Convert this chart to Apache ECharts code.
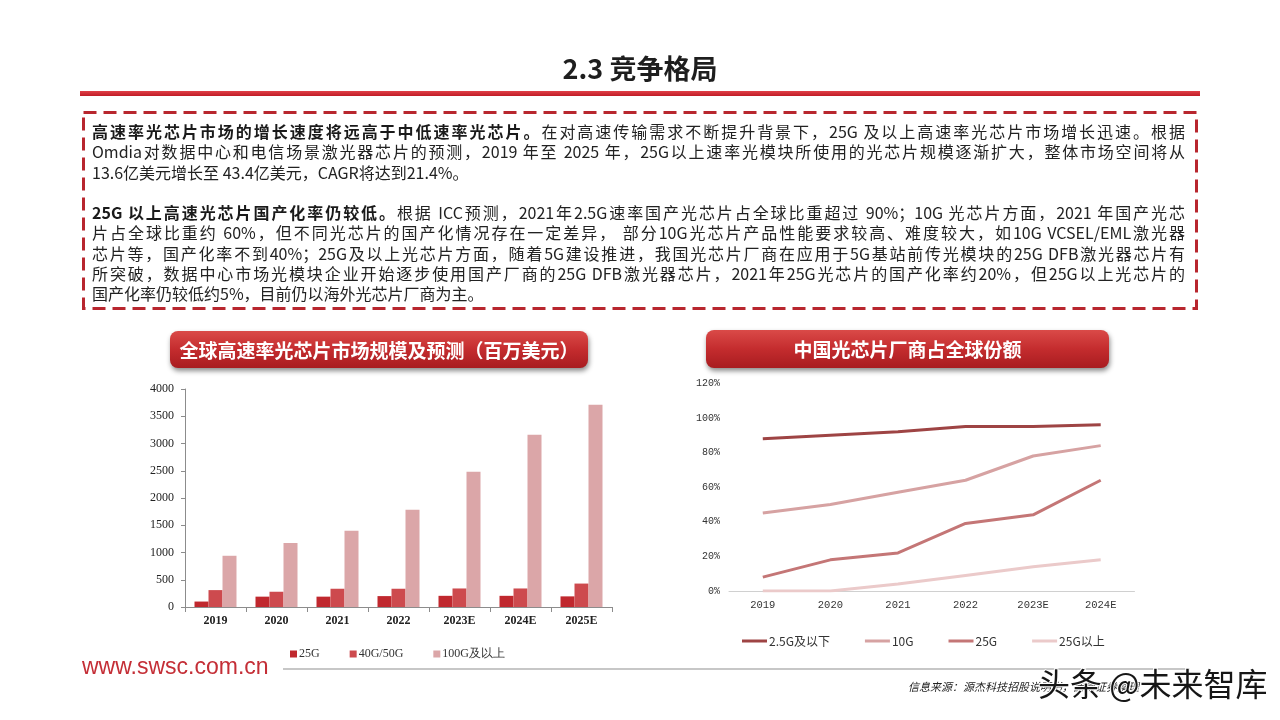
<!DOCTYPE html>
<html lang="zh-CN">
<head>
<meta charset="utf-8">
<script src="https://cdn.jsdelivr.net/npm/echarts@6/dist/echarts.min.js"></script>
<style>
  html,body{margin:0;padding:0;background:#fff;}
  #wrap{position:relative;width:1280px;height:720px;overflow:hidden;}
  #chart{position:absolute;left:0;top:0;width:1280px;height:720px;}
  #para{position:absolute;left:92px;top:121px;width:1093px;font-family:"Noto Sans CJK SC","Noto Sans",sans-serif;font-size:16px;color:#222;}
  #para div{height:20.3px;line-height:20.3px;text-align:justify;text-align-last:justify;white-space:normal;overflow:visible;}
  #para div.last{text-align-last:left;}
  #para b{font-weight:bold;color:#1a1a1a;}
</style>
</head>
<body>
<div id="wrap">
  <div id="chart"></div>
  <div id="para">
    <div><b>高速率光芯片市场的增长速度将远高于中低速率光芯片。</b>在对高速传输需求不断提升背景下，25G 及以上高速率光芯片市场增长迅速。根据</div>
    <div>Omdia对数据中心和电信场景激光器芯片的预测，2019 年至 2025 年，25G以上速率光模块所使用的光芯片规模逐渐扩大，整体市场空间将从</div>
    <div class="last">13.6亿美元增长至 43.4亿美元，CAGR将达到21.4%。</div>
    <div class="last"></div>
    <div><b>25G 以上高速光芯片国产化率仍较低。</b>根据 ICC预测，2021年2.5G速率国产光芯片占全球比重超过 90%；10G 光芯片方面，2021 年国产光芯</div>
    <div>片占全球比重约 60%，但不同光芯片的国产化情况存在一定差异， 部分10G光芯片产品性能要求较高、难度较大，如10G VCSEL/EML激光器</div>
    <div>芯片等，国产化率不到40%；25G及以上光芯片方面，随着5G建设推进，我国光芯片厂商在应用于5G基站前传光模块的25G DFB激光器芯片有</div>
    <div>所突破，数据中心市场光模块企业开始逐步使用国产厂商的25G DFB激光器芯片，2021年25G光芯片的国产化率约20%，但25G以上光芯片的</div>
    <div class="last">国产化率仍较低约5%，目前仍以海外光芯片厂商为主。</div>
  </div>
</div>
<script>
// ---- data ----
const years = ['2019', '2020', '2021', '2022', '2023E', '2024E', '2025E'];
const barNames = ['25G', '40G/50G', '100G及以上'];
const s25G = [100, 190, 190, 200, 205, 205, 195];
const s40G = [310, 280, 335, 335, 340, 340, 430];
const s100G = [940, 1175, 1400, 1785, 2480, 3160, 3710];

const shareYears = ['2019', '2020', '2021', '2022', '2023E', '2024E'];
const lineNames = ['2.5G及以下', '10G', '25G', '25G以上'];
const share25Below = [88, 90, 92, 95, 95, 96];
const share10G = [45, 50, 57, 64, 78, 84];
const share25G = [8, 18, 22, 39, 44, 64];
const share25Above = [0, 0, 4, 9, 14, 18];

const barColors = ['#c0282e', '#cd4a4e', '#dba6a8'];
const lineColors = ['#9e4444', '#d6a2a2', '#c47676', '#ebcaca'];

const chart = echarts.init(document.getElementById('chart'), null, {renderer: 'canvas'});
const serif = '"Liberation Serif","DejaVu Serif",serif';
const cjk = '"Noto Sans CJK SC","Noto Sans",sans-serif';
const mono = '"Liberation Mono","DejaVu Sans Mono",monospace';

function banner(x, y, w, h, text) {
  return [{
    type: 'rect', shape: {x: x, y: y, width: w, height: h, r: 8},
    style: {
      fill: new echarts.graphic.LinearGradient(0, 0, 0, 1, [
        {offset: 0, color: '#da4a48'}, {offset: 0.5, color: '#c42c2e'}, {offset: 1, color: '#a81c20'}
      ]),
      shadowBlur: 5, shadowColor: 'rgba(0,0,0,0.45)', shadowOffsetY: 3, shadowOffsetX: 1
    }, z: 1
  }, {
    type: 'text', x: x + w / 2, y: y + h / 2 + 1,
    style: {text: text, fill: '#fff', font: 'bold 19px ' + cjk, align: 'center', verticalAlign: 'middle'}, z: 2
  }];
}

const lineData = [share25Below, share10G, share25G, share25Above];

const option = {
  animation: false,
  graphic: [
    {type: 'text', x: 640, y: 69, style: {text: '2.3 竞争格局', fill: '#1e1e1e', font: 'bold 27px ' + cjk, align: 'center', verticalAlign: 'middle'}},
    {type: 'rect', shape: {x: 80, y: 91, width: 1120, height: 5},
      style: {fill: new echarts.graphic.LinearGradient(0, 0, 0, 1, [{offset: 0, color: '#e04048'}, {offset: 1, color: '#c01c26'}])}},
    {type: 'rect', shape: {x: 83.5, y: 112.5, width: 1113, height: 196},
      style: {fill: 'none', stroke: '#b8262e', lineWidth: 3, lineDash: [13, 7]}},
    ...banner(170, 331, 418, 37, '全球高速率光芯片市场规模及预测（百万美元）'),
    ...banner(706, 330, 403, 38, '中国光芯片厂商占全球份额'),
    {type: 'text', x: 82, y: 668, style: {text: 'www.swsc.com.cn', fill: '#c42e36', font: '23px "Liberation Sans",Arial,sans-serif', align: 'left', verticalAlign: 'middle'}},
    {type: 'line', shape: {x1: 283, y1: 669, x2: 1190, y2: 669}, style: {stroke: '#b4b4b4', lineWidth: 1.5}},
    {type: 'text', x: 908, y: 687, style: {text: '信息来源：源杰科技招股说明书，西南证券整理', fill: '#222', font: 'italic 11px ' + cjk, align: 'left', verticalAlign: 'middle'}},
    {type: 'text', x: 1038, y: 684, z: 10, style: {text: '头条 @未来智库', fill: '#161616', stroke: '#ffffff', lineWidth: 2, font: '32px ' + cjk, align: 'left', verticalAlign: 'middle'}}
  ],
  legend: [{
    data: barNames, left: 285, top: 643, icon: 'rect', itemWidth: 7, itemHeight: 7, itemGap: 30,
    textStyle: {fontFamily: serif, fontSize: 12, color: '#333', padding: [0, 0, 0, -3]}
  }, {
    data: lineNames.map(n => 'L:' + n), formatter: n => n.slice(2),
    left: 737, top: 630, icon: 'rect', itemWidth: 25, itemHeight: 3, itemGap: 35,
    textStyle: {fontFamily: cjk, fontSize: 12, color: '#333', padding: [0, 0, 0, -3]}
  }],
  grid: [
    {left: 185, right: 1280 - 612, top: 389, bottom: 720 - 607, containLabel: false},
    {left: 729, right: 1280 - 1134.5, top: 383.3, bottom: 720 - 591, containLabel: false}
  ],
  xAxis: [{
    type: 'category', gridIndex: 0, data: years,
    axisLine: {lineStyle: {color: '#8c8c8c', width: 1}},
    axisTick: {show: true, length: 5, lineStyle: {color: '#8c8c8c'}},
    axisLabel: {fontFamily: serif, fontWeight: 'bold', fontSize: 12, color: '#222', margin: 8}
  }, {
    type: 'category', gridIndex: 1, data: shareYears,
    axisLine: {lineStyle: {color: '#d0d0d0', width: 1}},
    axisTick: {show: false},
    axisLabel: {fontFamily: mono, fontSize: 10.5, color: '#333', margin: 9}
  }],
  yAxis: [{
    type: 'value', gridIndex: 0, min: 0, max: 4000, interval: 500,
    axisLine: {show: true, lineStyle: {color: '#8c8c8c'}},
    axisTick: {show: true, length: 4, lineStyle: {color: '#8c8c8c'}},
    splitLine: {show: false},
    axisLabel: {formatter: v => String(v), fontFamily: serif, fontSize: 12, color: '#222', margin: 11}
  }, {
    type: 'value', gridIndex: 1, min: 0, max: 120, interval: 20,
    axisLine: {show: false}, axisTick: {show: false}, splitLine: {show: false},
    axisLabel: {formatter: '{value}%', fontFamily: mono, fontSize: 10, color: '#333', margin: 9}
  }],
  series: [
    {name: barNames[0], type: 'bar', xAxisIndex: 0, yAxisIndex: 0, data: s25G, barWidth: 14, barGap: '0%', itemStyle: {color: barColors[0]}},
    {name: barNames[1], type: 'bar', xAxisIndex: 0, yAxisIndex: 0, data: s40G, barWidth: 14, barGap: '0%', itemStyle: {color: barColors[1]}},
    {name: barNames[2], type: 'bar', xAxisIndex: 0, yAxisIndex: 0, data: s100G, barWidth: 14, barGap: '0%', itemStyle: {color: barColors[2]}},
    ...lineNames.map((n, i) => ({
      name: 'L:' + n, type: 'line', xAxisIndex: 1, yAxisIndex: 1, data: lineData[i],
      symbol: 'none', lineStyle: {color: lineColors[i], width: 3}, itemStyle: {color: lineColors[i]}, z: 4 - i
    }))
  ]
};
chart.setOption(option);
</script>
</body>
</html>
